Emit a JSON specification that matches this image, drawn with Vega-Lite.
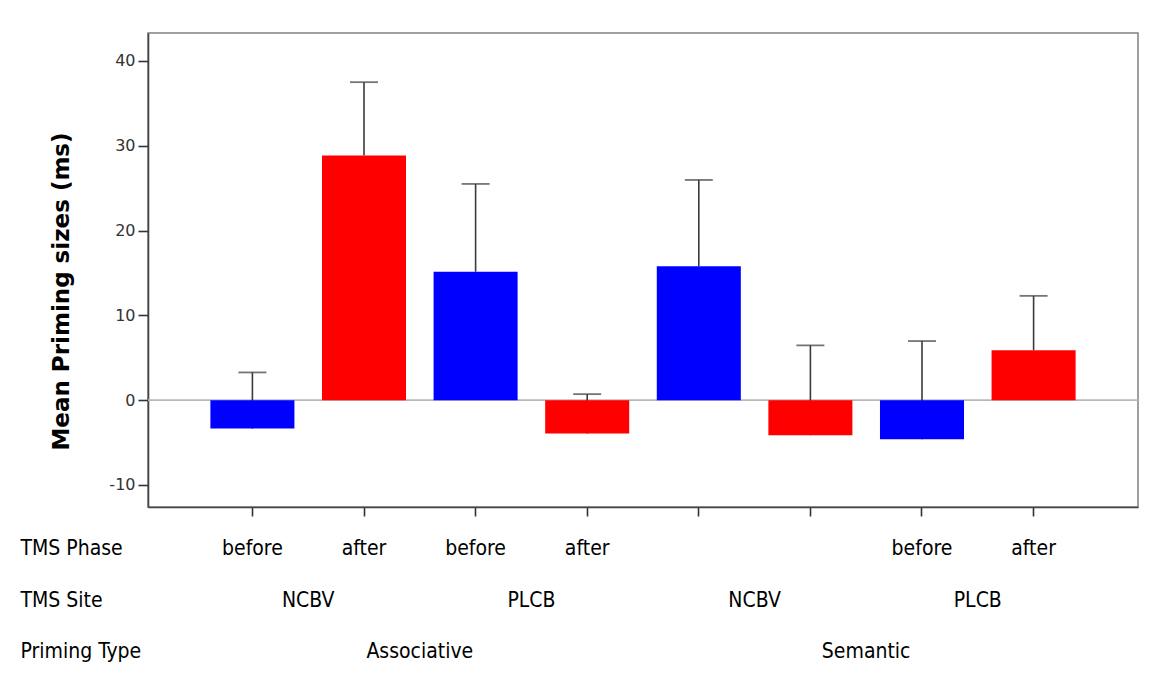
{
  "$schema": "https://vega.github.io/schema/vega-lite/v6.json",
  "width": 990,
  "height": 474,
  "autosize": {"type": "none"},
  "padding": {"left": 148, "top": 33, "right": 11, "bottom": 172},
  "background": "white",
  "config": {
    "view": {"stroke": "#808080", "strokeWidth": 1.5},
    "axis": {"grid": false}
  },
  "data": {
    "values": [
      {"type": "Associative", "site": "NCBV", "phase": "before", "cell": "Associative NCBV before", "site_cell": "Associative NCBV", "mean": -3.35, "upper": 3.27},
      {"type": "Associative", "site": "NCBV", "phase": "after", "cell": "Associative NCBV after", "site_cell": "Associative NCBV", "mean": 28.84, "upper": 37.5},
      {"type": "Associative", "site": "PLCB", "phase": "before", "cell": "Associative PLCB before", "site_cell": "Associative PLCB", "mean": 15.15, "upper": 25.5},
      {"type": "Associative", "site": "PLCB", "phase": "after", "cell": "Associative PLCB after", "site_cell": "Associative PLCB", "mean": -3.94, "upper": 0.71},
      {"type": "Semantic", "site": "NCBV", "phase": "before", "cell": "Semantic NCBV before", "site_cell": "Semantic NCBV", "mean": 15.8, "upper": 25.97},
      {"type": "Semantic", "site": "NCBV", "phase": "after", "cell": "Semantic NCBV after", "site_cell": "Semantic NCBV", "mean": -4.13, "upper": 6.46},
      {"type": "Semantic", "site": "PLCB", "phase": "before", "cell": "Semantic PLCB before", "site_cell": "Semantic PLCB", "mean": -4.6, "upper": 6.97},
      {"type": "Semantic", "site": "PLCB", "phase": "after", "cell": "Semantic PLCB after", "site_cell": "Semantic PLCB", "mean": 5.9, "upper": 12.3}
    ]
  },
  "layer": [
    {
      "layer": [
        {
          "data": {"values": [{"baseline": 0}]},
          "mark": {"type": "rule", "color": "#b8b8b8", "strokeWidth": 1.8},
          "encoding": {
            "y": {"field": "baseline", "type": "quantitative", "scale": {"domain": [-12.6, 43.3], "nice": false, "zero": false}, "title": "Mean Priming sizes (ms)"}
          }
        },
        {
          "mark": {"type": "rule", "color": "#3a3a3a", "strokeWidth": 1.6},
          "encoding": {
            "x": {"field": "cell", "type": "nominal", "sort": null},
            "y": {"field": "mean", "type": "quantitative", "title": "Mean Priming sizes (ms)"},
            "y2": {"field": "upper"}
          }
        },
        {
          "mark": {"type": "tick", "color": "#3a3a3a", "size": 28, "thickness": 1.8},
          "encoding": {
            "x": {"field": "cell", "type": "nominal", "sort": null},
            "y": {"field": "upper", "type": "quantitative", "title": "Mean Priming sizes (ms)"}
          }
        },
        {
          "mark": {"type": "bar"},
          "encoding": {
            "x": {
              "field": "cell",
              "type": "nominal",
              "sort": null,
              "scale": {"type": "band", "paddingInner": 0.247, "paddingOuter": 0.559},
              "axis": {
                "orient": "bottom",
                "title": "TMS Phase",
                "titleFont": "Liberation Sans Narrow, DejaVu Sans Condensed, sans-serif",
                "titleFontSize": 21,
                "titleFontWeight": "normal",
                "titleColor": "#000000",
                "titleAngle": 0,
                "titleAlign": "left",
                "titleBaseline": "middle",
                "titleX": -128,
                "titleY": 41,
                "labelExpr": "indexof(datum.value, 'Semantic NCBV') === 0 ? '' : (indexof(datum.value, 'before') > 0 ? 'before' : 'after')",
                "labelFont": "Liberation Sans Narrow, DejaVu Sans Condensed, sans-serif",
                "labelFontSize": 21,
                "labelColor": "#000000",
                "labelAngle": 0,
                "labelAlign": "center",
                "labelBaseline": "middle",
                "labelPadding": 32,
                "labelOverlap": false,
                "tickSize": 9,
                "tickWidth": 1.6,
                "tickColor": "#333333",
                "domainColor": "#444444",
                "domainWidth": 1.6
              }
            },
            "y": {
              "field": "mean",
              "type": "quantitative",
              "title": "Mean Priming sizes (ms)",
              "axis": {
                "values": [-10, 0, 10, 20, 30, 40],
                "labelExpr": "datum.value + ''",
                "labelFont": "DejaVu Sans, sans-serif",
                "labelFontSize": 16,
                "labelColor": "#333333",
                "labelPadding": 3,
                "tickSize": 10,
                "tickWidth": 1.6,
                "tickColor": "#333333",
                "domainColor": "#444444",
                "domainWidth": 1.6,
                "titleFont": "DejaVu Sans, sans-serif",
                "titleFontSize": 23,
                "titleFontWeight": "bold",
                "titleColor": "#000000",
                "titleAngle": 270,
                "titleAlign": "center",
                "titleBaseline": "middle",
                "titleX": -87,
                "titleY": 258
              }
            },
            "color": {
              "field": "phase",
              "type": "nominal",
              "scale": {"domain": ["before", "after"], "range": ["#0000ff", "#ff0000"]},
              "legend": null
            }
          }
        }
      ]
    },
    {
      "mark": {"type": "point", "opacity": 0},
      "encoding": {
        "x": {
          "field": "site_cell",
          "type": "nominal",
          "sort": null,
          "scale": {"type": "band", "paddingInner": 0, "paddingOuter": 0.218},
          "axis": {
            "orient": "bottom",
            "title": "TMS Site",
            "titleFont": "Liberation Sans Narrow, DejaVu Sans Condensed, sans-serif",
            "titleFontSize": 21,
            "titleFontWeight": "normal",
            "titleColor": "#000000",
            "titleAngle": 0,
            "titleAlign": "left",
            "titleBaseline": "middle",
            "titleX": -128,
            "titleY": 93,
            "labelExpr": "split(datum.value, ' ')[1]",
            "labelFont": "Liberation Sans Narrow, DejaVu Sans Condensed, sans-serif",
            "labelFontSize": 21,
            "labelColor": "#000000",
            "labelAngle": 0,
            "labelAlign": "center",
            "labelBaseline": "middle",
            "labelPadding": 93,
            "labelOverlap": false,
            "ticks": false,
            "tickSize": 0,
            "domain": false
          }
        }
      }
    },
    {
      "mark": {"type": "point", "opacity": 0},
      "encoding": {
        "x": {
          "field": "type",
          "type": "nominal",
          "sort": null,
          "scale": {"type": "band", "paddingInner": 0, "paddingOuter": 0.109},
          "axis": {
            "orient": "bottom",
            "title": "Priming Type",
            "titleFont": "Liberation Sans Narrow, DejaVu Sans Condensed, sans-serif",
            "titleFontSize": 21,
            "titleFontWeight": "normal",
            "titleColor": "#000000",
            "titleAngle": 0,
            "titleAlign": "left",
            "titleBaseline": "middle",
            "titleX": -128,
            "titleY": 144,
            "labelFont": "Liberation Sans Narrow, DejaVu Sans Condensed, sans-serif",
            "labelFontSize": 21,
            "labelColor": "#000000",
            "labelAngle": 0,
            "labelAlign": "center",
            "labelBaseline": "middle",
            "labelPadding": 144,
            "labelOverlap": false,
            "ticks": false,
            "tickSize": 0,
            "domain": false
          }
        }
      }
    }
  ],
  "resolve": {"scale": {"x": "independent"}, "axis": {"x": "independent"}}
}
